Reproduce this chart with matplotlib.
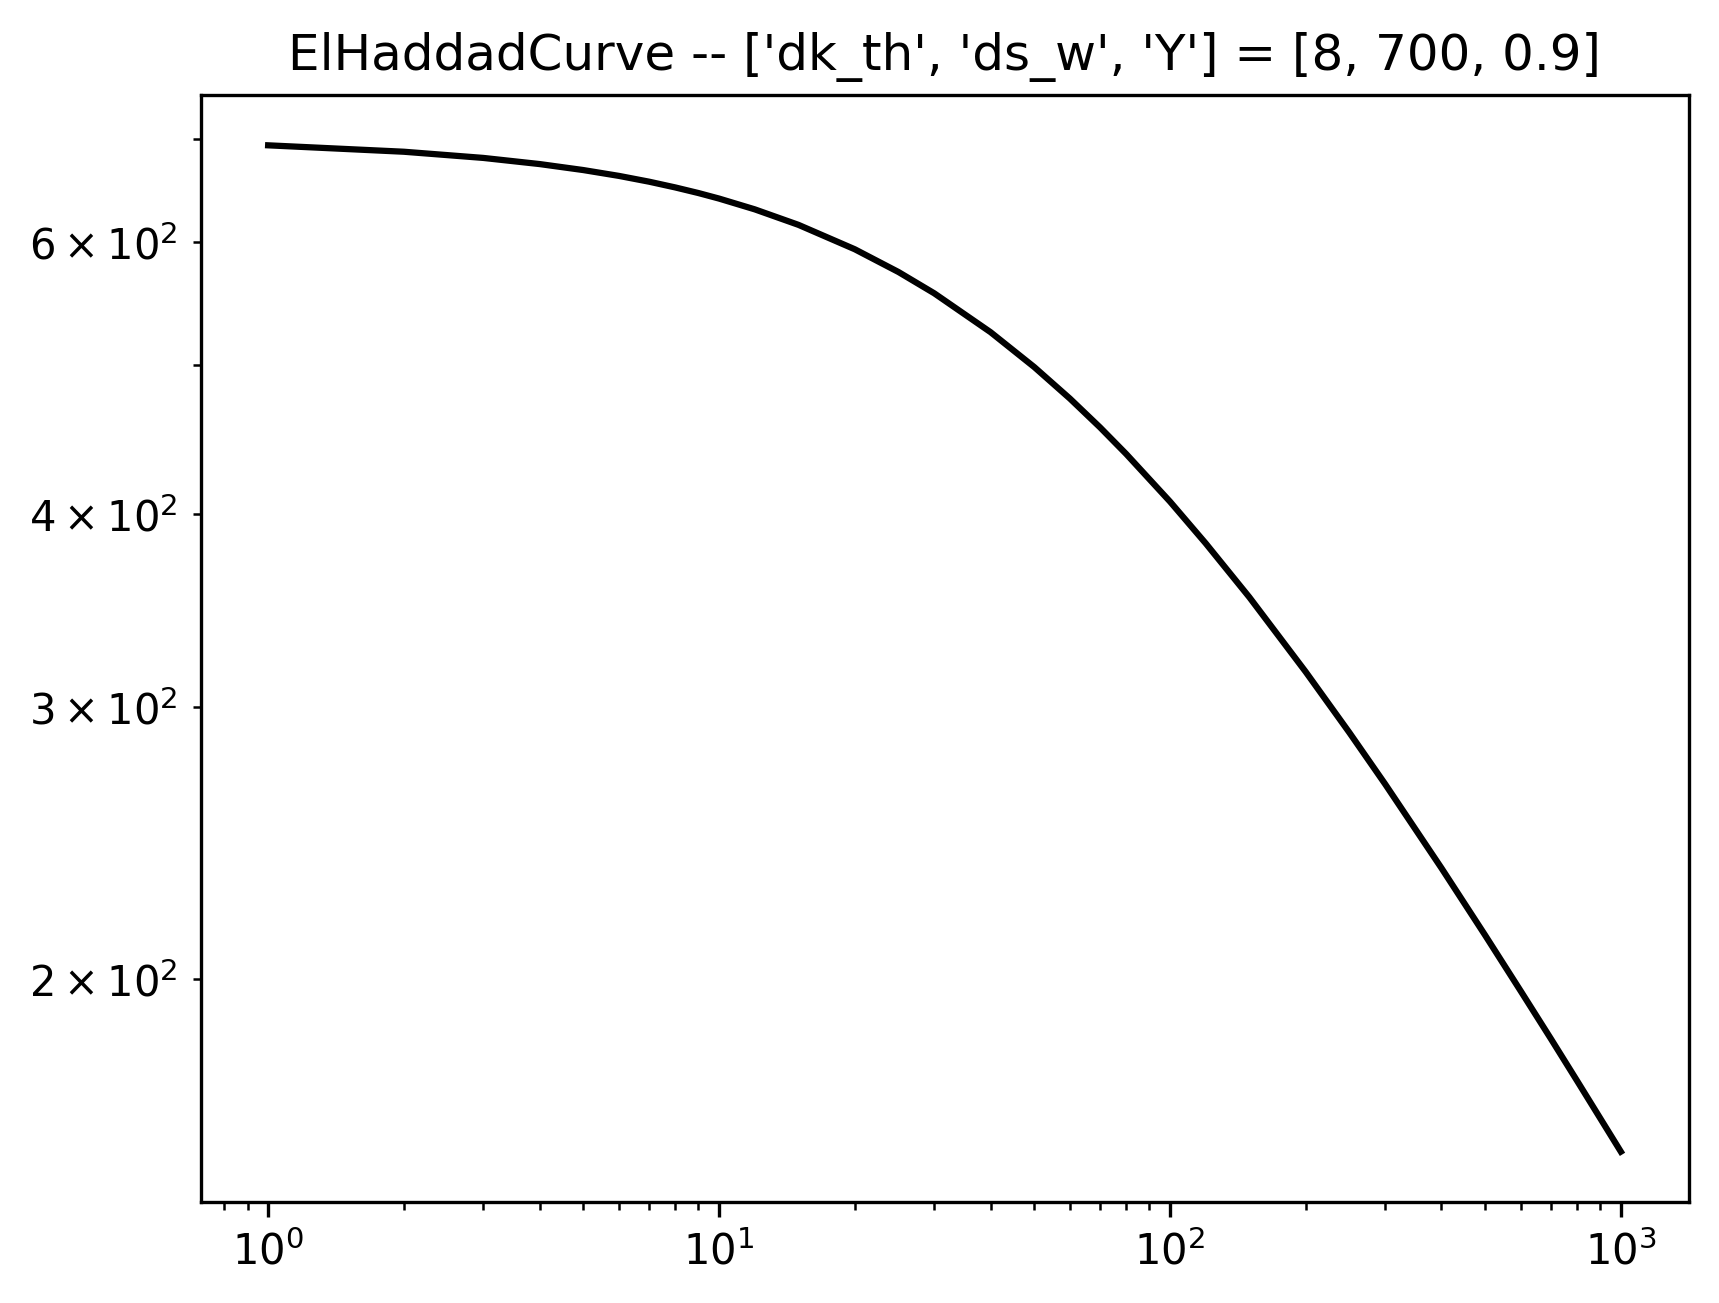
import matplotlib
matplotlib.use("Agg")
import matplotlib.pyplot as plt

# Crack length (x) and threshold stress range (y)
crack_length = [1, 2, 3, 4, 5, 6, 7, 8, 9, 10, 12, 15, 20, 25, 30, 40, 50,
                60, 70, 80, 100, 120, 150, 200, 250, 300, 400, 500, 600, 700,
                800, 1000]
stress_range = [693.3, 686.7, 680.4, 674.2, 668.2, 662.4, 656.7, 651.1, 645.7,
                640.4, 630.2, 615.8, 593.8, 574.0, 556.1, 524.8, 498.2, 475.3,
                455.3, 437.6, 407.7, 383.1, 353.5, 316.3, 288.9, 267.6, 236.1,
                213.6, 196.5, 183.0, 171.9, 154.7]

title = "ElHaddadCurve -- ['dk_th', 'ds_w', 'Y'] = [8, 700, 0.9]"

W, H = 1719, 1303
fig = plt.figure(figsize=(W / 300, H / 300), dpi=300)
ax = fig.add_axes([200.5 / W, 101 / H, 1488 / W, 1107 / H])
ax.plot(crack_length, stress_range, color="k", lw=1.5)
ax.set_xscale("log")
ax.set_yscale("log")
ax.set_title(title, fontsize=12)
fig.savefig("out.png", dpi=300)
